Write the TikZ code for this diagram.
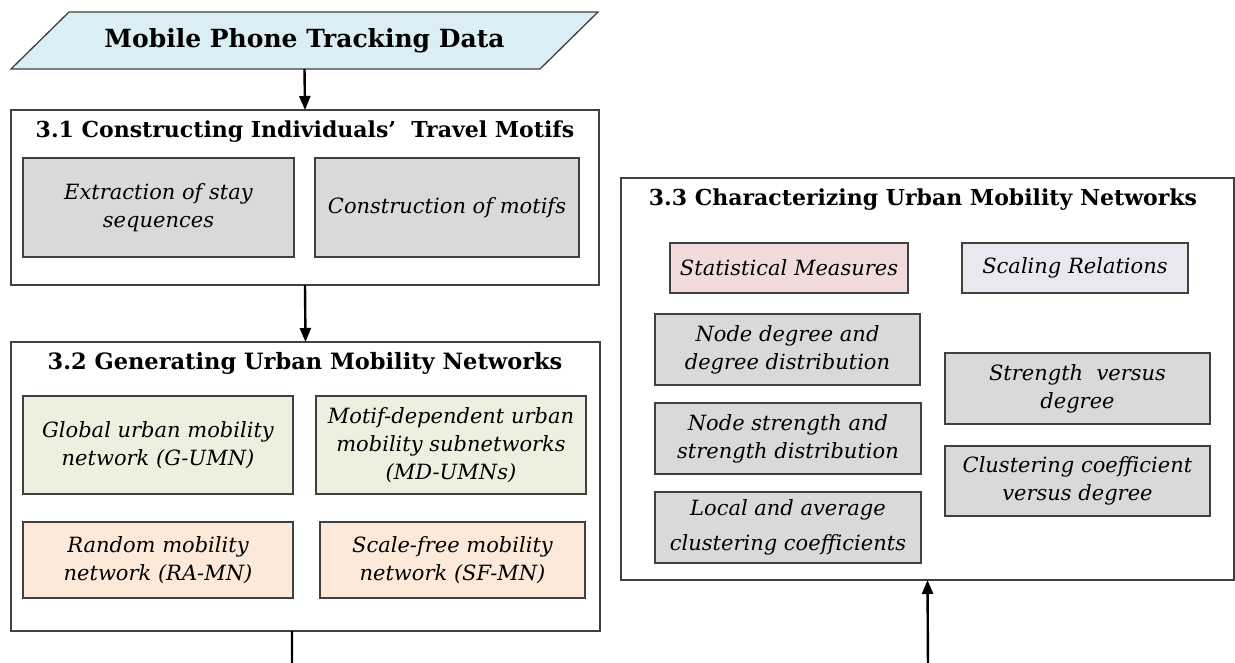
\documentclass[tikz,border=0pt]{standalone}
\usepackage{fontspec}
\setmainfont{DejaVu Serif}
\usetikzlibrary{arrows.meta,calc,backgrounds}
\definecolor{bluefill}{HTML}{DAEEF3}
\definecolor{grayfill}{HTML}{D9D9D9}
\definecolor{greenfill}{HTML}{EBF1DE}
\definecolor{peachfill}{HTML}{FDE9D9}
\definecolor{pinkfill}{HTML}{F2DCDB}
\definecolor{lavfill}{HTML}{EAE7F0}
\definecolor{edgegray}{HTML}{404040}
\tikzset{
  secbox/.style={draw=edgegray, line width=1.3pt, fill=white, inner sep=0pt, outer sep=0pt},
  subbox/.style={draw=edgegray, line width=1.4pt, inner sep=0pt, outer sep=0pt, align=center,
     font=\fontsize{21}{28}\selectfont\itshape},
  sectitle/.style={anchor=base, inner sep=0pt, font=\fontsize{22}{26}\selectfont\bfseries},
  flow/.style={line width=2.4pt, -{Triangle[length=14pt,width=11pt]}},
  para/.style={draw=edgegray, line width=1.3pt, fill=bluefill, line join=miter}
}
\begin{document}
\begin{tikzpicture}[x=1pt,y=-1pt]
\useasboundingbox (0,0) rectangle (1235,662);
% source data
\node[inner sep=0pt, outer sep=0pt, minimum width=529pt, minimum height=57pt,
  font=\fontsize{25}{30}\selectfont\bfseries] (data) at (304.5,40.5) {Mobile Phone Tracking Data};
\begin{scope}[on background layer]
\draw[para] ($(data.north west)+(29,0)$) -- ($(data.north east)+(29,0)$)
   -- ($(data.south east)+(-29,0)$) -- ($(data.south west)+(-29,0)$) -- cycle;
\end{scope}
% section 3.1
\node[secbox, minimum width=588pt, minimum height=175pt] (box31) at (305,197.5) {};
\node[sectitle] (t31) at (305,137) {3.1 Constructing Individuals’\ \ Travel Motifs};
\node[subbox, fill=grayfill, minimum width=271pt, minimum height=99pt] (ext) at (158.5,207.5) {Extraction of stay\\sequences};
\node[subbox, fill=grayfill, minimum width=264pt, minimum height=99pt] (con) at (447,207.5) {Construction of motifs};
% section 3.2
\node[secbox, minimum width=589pt, minimum height=289pt] (box32) at (305.5,486.5) {};
\node[sectitle, font=\fontsize{22.5}{26}\selectfont\bfseries] (t32) at (305,369) {3.2 Generating Urban Mobility Networks};
\node[subbox, fill=greenfill, minimum width=270pt, minimum height=98pt] (gumn) at (158,445) {Global urban mobility\\network (G-UMN)};
\node[subbox, fill=greenfill, minimum width=270pt, minimum height=98pt] (mdumn) at (451,445) {Motif-dependent urban\\mobility subnetworks\\(MD-UMNs)};
\node[subbox, fill=peachfill, minimum width=270pt, minimum height=76pt] (ramn) at (158,560) {Random mobility\\network (RA-MN)};
\node[subbox, fill=peachfill, minimum width=265pt, minimum height=76pt] (sfmn) at (452.5,560) {Scale-free mobility\\network (SF-MN)};
% section 3.3
\node[secbox, minimum width=613pt, minimum height=402pt] (box33) at (927.5,379) {};
\node[sectitle] (t33) at (923,205) {3.3 Characterizing Urban Mobility Networks};
\node[subbox, fill=pinkfill, minimum width=238pt, minimum height=50pt] (stat) at (789,268) {Statistical Measures};
\node[subbox, fill=lavfill, minimum width=226pt, minimum height=50pt] (scal) at (1075,268) {Scaling Relations};
\node[subbox, fill=grayfill, minimum width=265pt, minimum height=71pt] (nd) at (787.5,349.5) {Node degree and\\degree distribution};
\node[subbox, fill=grayfill, minimum width=266pt, minimum height=71pt] (ns) at (788,438.5) {Node strength and\\strength distribution};
\node[subbox, fill=grayfill, minimum width=266pt, minimum height=71pt, font=\fontsize{21}{35}\selectfont\itshape] (lac) at (788,527.5) {Local and average\\clustering coefficients};
\node[subbox, fill=grayfill, minimum width=265pt, minimum height=71pt] (svd) at (1077.5,388.5) {Strength\ \ versus\\degree};
\node[subbox, fill=grayfill, minimum width=265pt, minimum height=70pt] (cvd) at (1077.5,481) {Clustering coefficient\\versus degree};
% connectors (the horizontal run lies just below the visible frame, as in the cropped original)
\coordinate (b1) at (292,668);
\coordinate (b2) at (928,668);
\draw[flow] (data.south) -- (box31.north);
\draw[flow] (box31.south) -- (box32.north);
\draw[flow] (box32.south -| b1) -- (b1) -- (b2) -- (box33.south);
\end{tikzpicture}
\end{document}
